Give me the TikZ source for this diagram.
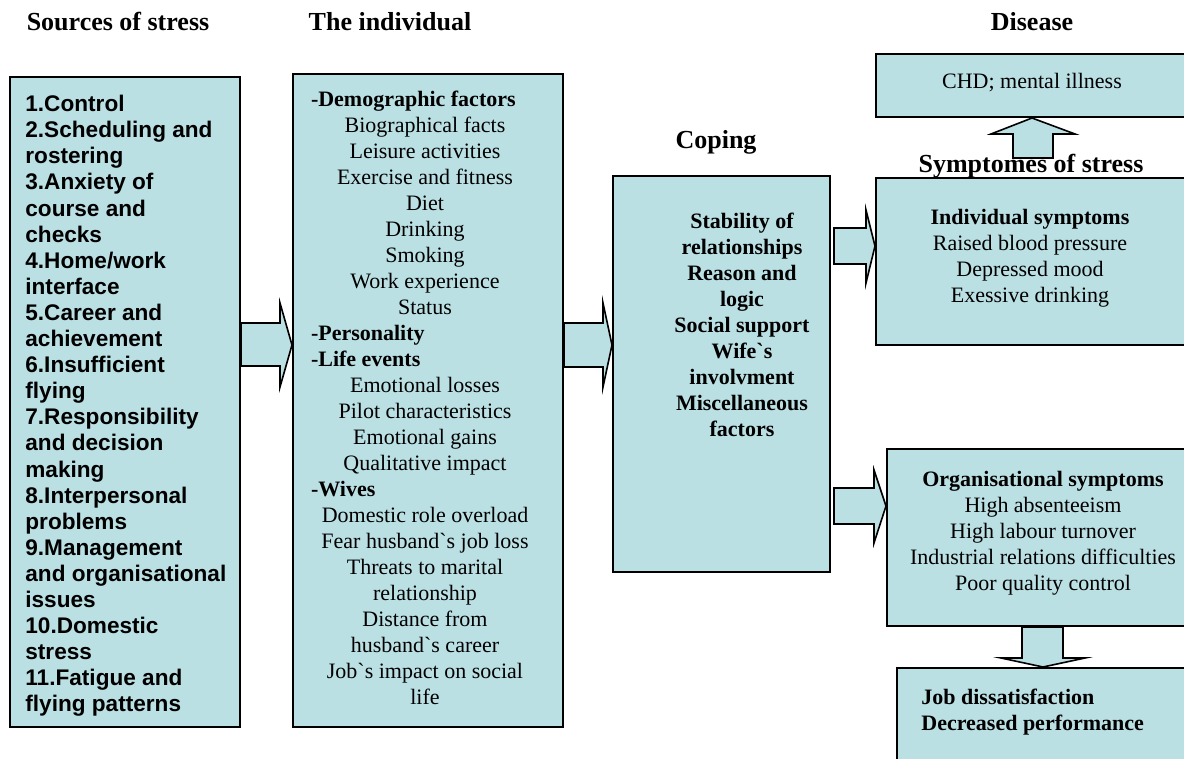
\documentclass[tikz,border=0pt]{standalone}
\usepackage{fontspec}
\setmainfont{Liberation Serif}
\setsansfont{Liberation Sans}
\definecolor{boxfill}{RGB}{187,224,228}
\newcommand{\hd}[1]{\makebox[114pt][l]{\textbf{#1}}}
\newcommand{\gr}{\textasciigrave}
\tikzset{
  box/.style={draw=black, line width=1pt, fill=boxfill, inner sep=0pt},
  blk/.style={draw=black, line width=0.8pt, fill=boxfill, line join=miter},
  txt/.style={inner sep=0pt, font=\fontsize{11}{13}\selectfont},
  head/.style={inner sep=0pt, font=\fontsize{13}{15}\selectfont\bfseries}
}
\begin{document}
\begin{tikzpicture}[x=0.5pt, y=-0.5pt]
    \useasboundingbox (0,0) rectangle (1184,759);

    % Kopfzeilen
    \node[head] (h1) at (118,22) {Sources of stress};
    \node[head] (h2) at (390,22) {The individual};
    \node[head] (h3) at (1032,22) {Disease};
    \node[head] (h4) at (716,142) {Coping};

    % Kaesten
    \node[box, minimum width=115pt, minimum height=325pt] (src) at (125,402) {};
    \node[box, minimum width=135pt, minimum height=326.5pt] (ind) at (428,400.5) {};
    \node[box, minimum width=108.5pt, minimum height=198pt] (cop) at (721.5,374) {};
    \node[box, minimum width=157pt, minimum height=31.5pt] (chd) at (1033,85.5) {};
    \node[box, minimum width=157pt, minimum height=83.5pt] (sym) at (1033,261.5) {};
    \node[box, minimum width=151.5pt, minimum height=88.5pt] (org) at (1038.5,537.5) {};
    \node[box, minimum width=146.5pt, minimum height=51pt] (job) at (1043.5,719) {};

    \node[head] (h5) at (1031,166) {Symptomes of stress};

    % Blockpfeile
    \draw[blk] (src.east |- 0,323) -- (280,323) -- (280,303) -- (ind.west |- 0,345)
        -- (280,387) -- (280,366) -- (src.east |- 0,366) -- cycle;
    \draw[blk] (ind.east |- 0,323) -- (603,323) -- (603,303) -- (cop.west |- 0,345)
        -- (603,387) -- (603,367) -- (ind.east |- 0,367) -- cycle;
    \draw[blk] (834,228) -- (866,228) -- (866,210) -- (sym.west |- 0,246)
        -- (866,283) -- (866,264) -- (834,264) -- cycle;
    \draw[blk] (834,488) -- (874,488) -- (874,470) -- (org.west |- 0,506)
        -- (874,543) -- (874,524) -- (834,524) -- cycle;
    \draw[blk] (1022,0 |- org.south) -- (1063,0 |- org.south) -- (1063,658) -- (1085,658)
        -- (1043,0 |- job.north) -- (1001,658) -- (1022,658) -- cycle;
    \draw[blk] (1013,158) -- (1013,134) -- (991,134) -- (1032,0 |- chd.south)
        -- (1075,134) -- (1053,134) -- (1053,158) -- cycle;

    % Texte
    \node[txt, font=\fontsize{11.3}{13.05}\selectfont\sffamily\bfseries, align=left, anchor=west]
        (srctxt) at (25,406) {1.Control\\2.Scheduling and\\rostering\\3.Anxiety of\\course and\\checks\\
        4.Home/work\\interface\\5.Career and\\achievement\\6.Insufficient\\flying\\
        7.Responsibility\\and decision\\making\\8.Interpersonal\\problems\\9.Management\\
        and organisational\\issues\\10.Domestic\\stress\\11.Fatigue and\\flying patterns};
    \node[txt, align=center] (indtxt) at (425,398) {\hd{-Demographic factors}\\
        Biographical facts\\Leisure activities\\Exercise and fitness\\Diet\\Drinking\\Smoking\\
        Work experience\\Status\\\hd{-Personality}\\\hd{-Life events}\\Emotional losses\\
        Pilot characteristics\\Emotional gains\\Qualitative impact\\\hd{-Wives}\\
        Domestic role overload\\Fear husband\gr s job loss\\Threats to marital\\relationship\\
        Distance from\\husband\gr s career\\Job\gr s impact on social\\life};
    \node[txt, font=\fontsize{11}{13}\selectfont\bfseries, align=center] (coptxt) at (742,325)
        {Stability of\\relationships\\Reason and\\logic\\Social support\\Wife\gr s\\involvment\\
        Miscellaneous\\factors};
    \node[txt] (chdtxt) at (1032,83) {CHD; mental illness};
    \node[txt, align=center] (symtxt) at (1030,258) {\textbf{Individual symptoms}\\
        Raised blood pressure\\Depressed mood\\Exessive drinking};
    \node[txt, align=center] (orgtxt) at (1043,533) {\textbf{Organisational symptoms}\\
        High absenteeism\\High labour turnover\\Industrial relations difficulties\\
        Poor quality control};
    \node[txt, font=\fontsize{11}{13}\selectfont\bfseries, align=left, anchor=west]
        (jobtxt) at (921,712) {Job dissatisfaction\\Decreased performance};
\end{tikzpicture}
\end{document}
